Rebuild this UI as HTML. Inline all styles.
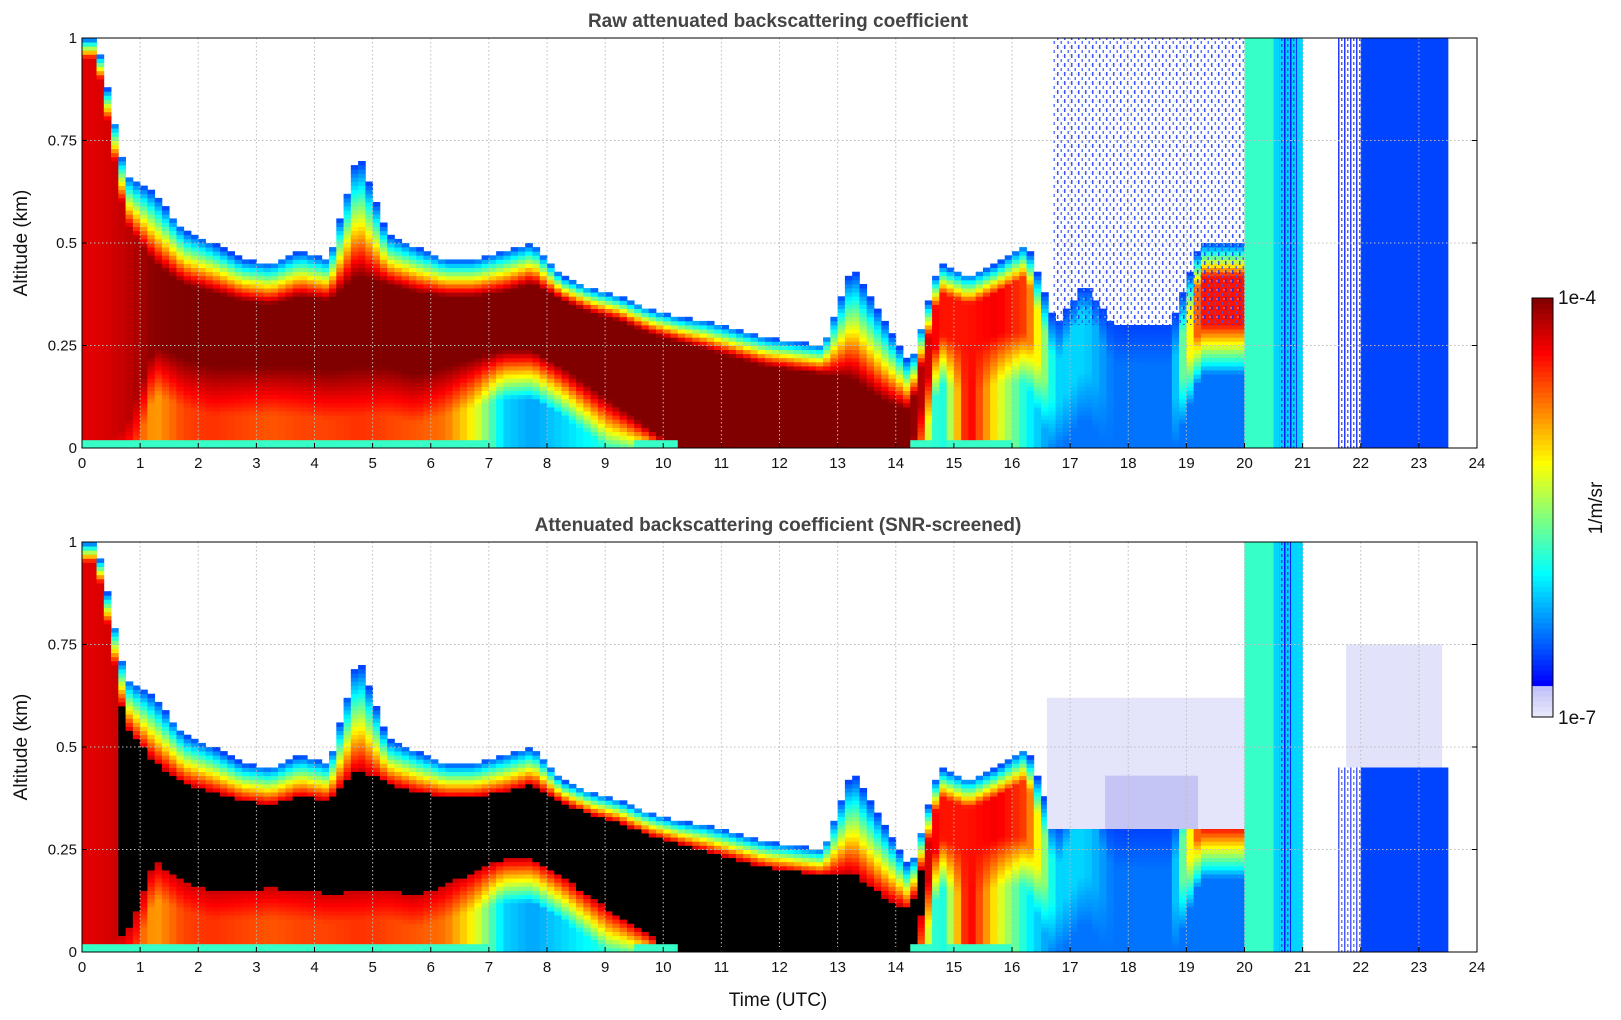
<!DOCTYPE html>
<html><head><meta charset="utf-8"><style>
html,body{margin:0;padding:0;background:#fff}
svg{display:block;font-family:"Liberation Sans","DejaVu Sans",sans-serif}
</style></head><body>
<svg id="fig" width="1621" height="1020" viewBox="0 0 1621 1020">
<defs>
<pattern id="noise" width="7" height="9" patternUnits="userSpaceOnUse">
<rect x="0" y="0" width="1.5" height="4" fill="#0a2cff"/>
<rect x="3.5" y="5" width="1.5" height="3" fill="#3355ff"/>
<rect x="5.5" y="1" width="1" height="2" fill="#c8c8f5"/>
</pattern>
<pattern id="noise2" width="6" height="6" patternUnits="userSpaceOnUse">
<rect x="0" y="0" width="1.5" height="6" fill="#0018ff"/>
<rect x="3" y="2" width="1.5" height="3" fill="#2a45ff"/>
</pattern>
</defs>
<g id="top-panel"></g>
<g id="bot-panel"></g>
<text x="778" y="27" text-anchor="middle" font-size="19" font-weight="bold" fill="#444">Raw attenuated backscattering coefficient</text>
<text x="778" y="531" text-anchor="middle" font-size="19" font-weight="bold" fill="#444">Attenuated backscattering coefficient (SNR-screened)</text>
<text x="778" y="1006" text-anchor="middle" font-size="19" fill="#111">Time (UTC)</text>
<text transform="translate(27,243) rotate(-90)" text-anchor="middle" font-size="19" fill="#111">Altitude (km)</text>
<text transform="translate(27,747) rotate(-90)" text-anchor="middle" font-size="19" fill="#111">Altitude (km)</text>
<g id="cbar"></g>
<text x="1558" y="304" font-size="19" fill="#111">1e-4</text>
<text x="1558" y="724" font-size="19" fill="#111">1e-7</text>
<text transform="translate(1602,508) rotate(-90)" text-anchor="middle" font-size="19" fill="#111">1/m/sr</text>
</svg>
<script>
// column start times (UTC hours)
const times=[0,0.5,1,1.5,2,2.5,3,3.5,4,4.5,5,5.5,6,6.5,7,7.5,8,8.5,9,9.5,10,10.5,11,11.5,12,12.5,13,13.5,14,14.5,15,15.5,16,16.5,17,17.5,18,18.5,19,19.5,20,20.5,21,21.5,22,22.5,23,23.5];
// signal top altitude (km)
const topAlt=[1.0,0.67,0.62,0.53,0.5,0.46,0.45,0.48,0.46,0.72,0.52,0.49,0.46,0.46,0.48,0.5,0.42,0.39,0.37,0.34,0.32,0.31,0.29,0.27,0.26,0.25,0.44,0.32,0.2,0.45,0.42,0.45,0.5,0.3,0.4,0.3,0.3,0.3,0.5,0.5,1.0,1.0,0,0,1.0,1.0,1.0,0];
// dense layer top / bottom altitude (km)
const coreTop=[0.95,0.55,0.45,0.40,0.38,0.36,0.35,0.37,0.36,0.42,0.40,0.38,0.37,0.37,0.38,0.40,0.36,0.33,0.31,0.28,0.26,0.24,0.22,0.20,0.19,0.18,0.17,0.12,0.09,0.38,0.35,0.38,0.42,0.2,0.35,0.2,0.2,0.2,0.42,0.42,1.0,1.0,0,0,1.0,1.0,1.0,0];
const coreBot=[0.0,0.05,0.25,0.22,0.2,0.2,0.2,0.2,0.19,0.2,0.2,0.18,0.2,0.22,0.24,0.24,0.2,0.15,0.1,0.05,0,0,0,0,0,0,0,0,0,0.28,0.25,0.28,0.28,0.1,0.2,0.1,0.1,0.1,0.3,0.3,0,0,0,0,0,0,0,0];
// peak colour index in dense layer (0..1 of colour scale)
const peakVal=[0.9,0.93,0.99,1,1,1,1,1,1,1,1,1,1,1,1,1,1,1,1,1,1,1,1,1,1,1,1,1,1,0.85,0.85,0.88,0.8,0.3,0.3,0.2,0.2,0.2,0.85,0.85,0.4,0.3,0,0,0.15,0.15,0.15,0];
// colour index near the ground
const lowVal=[0.9,0.85,0.7,0.8,0.82,0.8,0.78,0.8,0.8,0.82,0.8,0.78,0.75,0.6,0.3,0.25,0.3,0.35,0.4,0.5,1,1,1,1,1,1,1,1,1,0.3,0.9,0.6,0.35,0.2,0.2,0.2,0.2,0.2,0.2,0.2,0.4,0.25,0,0,0.15,0.15,0.15,0];
// altitude ceiling after SNR screening (km)
const screenTop=[1,1,1,1,1,1,1,1,1,1,1,1,1,1,1,1,1,1,1,1,1,1,1,1,1,1,1,1,1,1,1,1,1,1,1,1,1,1,1,1,1,1,1,1,0.45,0.45,0.45,1];
const xTicks=[0,1,2,3,4,5,6,7,8,9,10,11,12,13,14,15,16,17,18,19,20,21,22,23,24];
const yTicks=[0,0.25,0.5,0.75,1];
const yTickLabels=["0","0.25","0.5","0.75","1"];

const NS="http://www.w3.org/2000/svg";
const X0=82,X1=1477;
function xs(t){return X0+(X1-X0)*t/24;}
function mk(tag,attrs,parent){const e=document.createElementNS(NS,tag);for(const k in attrs)e.setAttribute(k,attrs[k]);parent.appendChild(e);return e;}
function clamp(v){return Math.max(0,Math.min(1,v));}
function jet(x){return [clamp(1.5-Math.abs(4*x-3)),clamp(1.5-Math.abs(4*x-2)),clamp(1.5-Math.abs(4*x-1))];}
function cmap(v,screen){
  if(screen&&v>0.92)return "#000";
  if(v<0.08){const l=235-Math.round(v*600);return `rgb(${l},${l},250)`;}
  const c=jet(0.125+(v-0.08)/0.92*0.875);
  return `rgb(${Math.round(c[0]*255)},${Math.round(c[1]*255)},${Math.round(c[2]*255)})`;
}
function params(ts){
  const n=times.length;
  const get=i=>({tp:topAlt[i],ct:coreTop[i],cb:coreBot[i],pk:peakVal[i],lo:lowVal[i],st:screenTop[i]});
  let f=(ts-0.25)/0.5;
  let i=Math.floor(f);
  if(i<0)return get(0);
  if(i>=n-1)return get(n-1);
  const w=f-i;
  const a=get(i),b=get(i+1);
  if(a.tp<=0||b.tp<=0||a.ct>=0.99||b.ct>=0.99||a.st!==b.st)return w<0.5?a:b;
  const r={};
  for(const k in a)r[k]=a[k]*(1-w)+b[k]*w;
  return r;
}
function profile(p,z,screen){
  if(p.tp<=0||z>p.tp)return null;
  if(screen&&z>p.st)return null;
  let v;
  if(z>p.ct){const f=(p.tp-z)/Math.max(p.tp-p.ct,1e-6);v=0.15+(p.pk-0.15)*f;}
  else if(z>=p.cb)v=p.pk;
  else{const d=Math.min(p.cb,0.12);const f=Math.min(1,(p.cb-z)/Math.max(d,1e-6));v=p.pk+(p.lo-p.pk)*f;}
  if(z<0.025&&p.lo<0.95&&p.lo>0.45)v=0.4;
  return v;
}
function panel(g,y0,y1,screen){
  const ys=a=>y1-(y1-y0)*a;
  const NR=100, NS_=192;
  for(let s=0;s<NS_;s++){
    const t=s*24/NS_, t2=(s+1)*24/NS_;
    const p=params((t+t2)/2);
    const col=mk('g',{},g);
    
    
    for(let r=0;r<NR;r++){
      const z=(r+0.5)/NR;
      const v=profile(p,z,screen);
      if(v===null)continue;
      const yT=ys((r+1)/NR),yB=ys(r/NR);
      const rc=mk('rect',{x:xs(t).toFixed(2),y:yT.toFixed(2),width:(xs(t2)-xs(t)+0.4).toFixed(2),height:(yB-yT+0.4).toFixed(2),fill:cmap(v,screen)},col);
      
      
    }
  }
  if(!screen){
    const n1=mk('rect',{x:xs(16.7),y:ys(1),width:xs(20)-xs(16.7),height:ys(0.3)-ys(1),fill:'url(#noise)',opacity:0.8},g);
    
    const n2=mk('rect',{x:xs(20.6),y:ys(1),width:xs(20.9)-xs(20.6),height:ys(0)-ys(1),fill:'url(#noise2)'},g);
    
    const n3=mk('rect',{x:xs(21.6),y:ys(1),width:xs(22)-xs(21.6),height:ys(0)-ys(1),fill:'url(#noise2)',opacity:0.85},g);
    
  }else{
    const l1=mk('rect',{x:xs(16.6),y:ys(0.62),width:xs(20)-xs(16.6),height:ys(0.3)-ys(0.62),fill:'#e4e4fa'},g);
    
    const l1b=mk('rect',{x:xs(17.6),y:ys(0.43),width:xs(19.2)-xs(17.6),height:ys(0.3)-ys(0.43),fill:'#c4c4f5'},g);
    
    const l2=mk('rect',{x:xs(21.75),y:ys(0.75),width:xs(23.4)-xs(21.75),height:ys(0.45)-ys(0.75),fill:'#e2e2fa'},g);
    
    const l3=mk('rect',{x:xs(21.6),y:ys(0.45),width:xs(22)-xs(21.6),height:ys(0)-ys(0.45),fill:'url(#noise2)',opacity:0.7},g);
    
    const n2=mk('rect',{x:xs(20.6),y:ys(1),width:xs(20.8)-xs(20.6),height:ys(0)-ys(1),fill:'url(#noise2)'},g);
    
  }
  xTicks.forEach(t=>{
    if(t>0&&t<24){const l=mk('line',{x1:xs(t),x2:xs(t),y1:y0,y2:y1,stroke:'#bbb','stroke-width':1,'stroke-dasharray':'1.5,2.5'},g);
    }
    const tk=mk('line',{x1:xs(t),x2:xs(t),y1:y1,y2:y1-5,stroke:'#000'},g);
    
    const tx=mk('text',{x:xs(t),y:y1+20,'text-anchor':'middle','font-size':15,fill:'#111'},g);
    tx.textContent=t;
    
  });
  yTicks.forEach((a,k)=>{
    if(a>0&&a<1){const l=mk('line',{x1:X0,x2:X1,y1:ys(a),y2:ys(a),stroke:'#bbb','stroke-width':1,'stroke-dasharray':'1.5,2.5'},g);
    }
    const tk=mk('line',{x1:X0,x2:X0+5,y1:ys(a),y2:ys(a),stroke:'#000'},g);
    
    const tk2=mk('line',{x1:X1,x2:X1-5,y1:ys(a),y2:ys(a),stroke:'#000'},g);
    
    const tx=mk('text',{x:X0-5,y:ys(a)+5,'text-anchor':'end','font-size':15,fill:'#111'},g);
    tx.textContent=yTickLabels[k];
    
  });
  const fr=mk('rect',{x:X0,y:y0,width:X1-X0,height:y1-y0,fill:'none',stroke:'#000','stroke-width':1},g);
  
}
panel(document.getElementById('top-panel'),38,448,false);
panel(document.getElementById('bot-panel'),542,952,true);
const cb=document.getElementById('cbar');
const CB0=298,CB1=717,N=80;
for(let k=0;k<N;k++){
  const v=(k+0.5)/N;
  const yT=CB1-(CB1-CB0)*(k+1)/N;
  const r=mk('rect',{x:1532,y:yT.toFixed(2),width:21,height:((CB1-CB0)/N+0.5).toFixed(2),fill:cmap(v,false)},cb);
  
  
}
const cf=mk('rect',{x:1532,y:CB0,width:21,height:CB1-CB0,fill:'none',stroke:'#000'},cb);


</script>
</body></html>
